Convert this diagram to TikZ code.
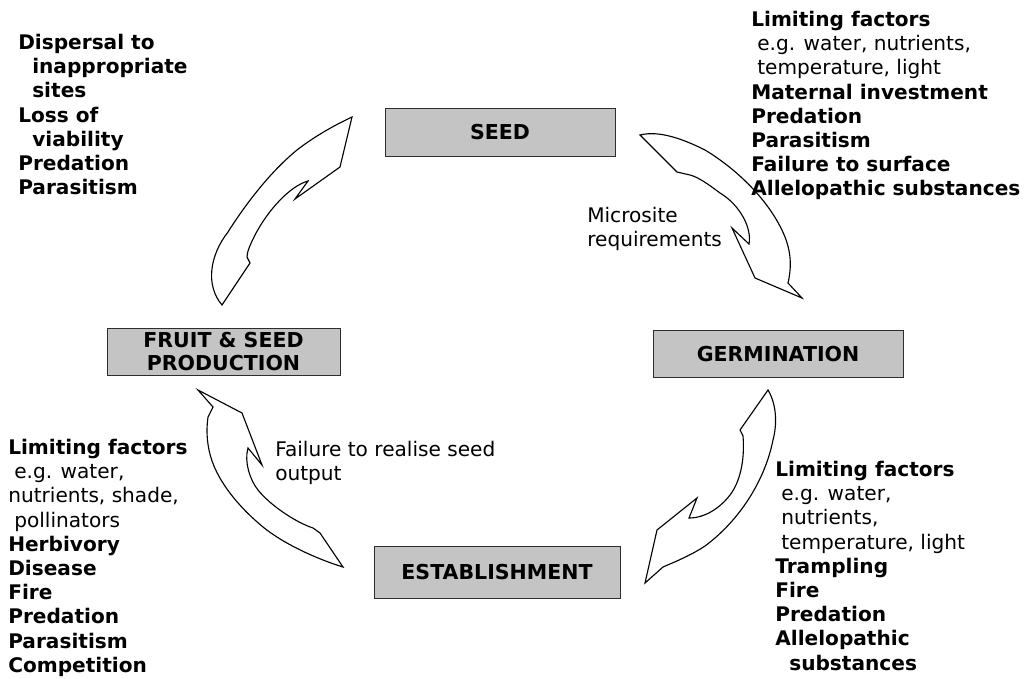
\documentclass[tikz,border=0pt]{standalone}
\usepackage{fontspec}
\setmainfont{DejaVu Sans}
\usepackage{tikz}
\definecolor{lcgrey}{RGB}{196,196,196}
\definecolor{lcline}{RGB}{45,45,45}
\newcommand{\lcsub}{\hspace*{0.15cm}}
\newcommand{\lcwrap}{\hspace*{0.35cm}}
\tikzset{
  lcbox/.style={draw=lcline, line width=.6pt, fill=lcgrey, align=center, inner sep=0pt, font=\fontsize{14.6}{16.4}\selectfont\bfseries},
  lcnote/.style={anchor=north west, align=left, inner sep=0pt, font=\fontsize{14.3}{17.2}\selectfont},
  lcarr/.style={draw=black, line width=.8pt, fill=white, line join=miter}
}

\begin{document}
\begin{tikzpicture}[x=0.025cm, y=-0.025cm]
  \useasboundingbox (0,0) rectangle (1030,678);
  % life cycle stages
  \node[lcbox, minimum width=5.75cm, minimum height=1.2cm] (seed) at (500,132) {SEED};
  \node[lcbox, minimum width=6.25cm, minimum height=1.175cm] (germ) at (778,354) {GERMINATION};
  \node[lcbox, minimum width=6.15cm, minimum height=1.3cm] (estab) at (497,572) {ESTABLISHMENT};
  \node[lcbox, minimum width=5.825cm, minimum height=1.175cm] (fruit) at (223.5,351.5) {FRUIT \& SEED\\PRODUCTION};
  % curved arrows between the stages
  \draw[lcarr] (222,305) .. controls (205,285) and (210,255) .. (228,232)
    .. controls (245,205) and (270,172) .. (297,150)
    .. controls (315,136) and (335,125) .. (352,117) -- (340,167) -- (295,199) -- (308,181)
    .. controls (290,186) and (268,210) .. (255,235)
    .. controls (250,245) and (247,252) .. (247,257) -- (250,263) -- cycle;
  \draw[lcarr] (640,135) .. controls (660,130) and (685,140) .. (705,150)
    .. controls (735,168) and (770,200) .. (785,237)
    .. controls (792,255) and (791,270) .. (788,283) -- (802,298) -- (755,278) -- (732,228) -- (749,244)
    .. controls (752,228) and (740,205) .. (720,193)
    .. controls (708,184) and (698,177) .. (690,175) -- (677,172) -- cycle;
  \draw[lcarr] (768,390) .. controls (777,405) and (777,425) .. (773,440)
    .. controls (765,480) and (740,520) .. (705,546)
    .. controls (690,556) and (672,563) .. (663,567) -- (645,583) -- (657,530) -- (697,498) -- (689,518)
    .. controls (705,518) and (720,508) .. (730,495)
    .. controls (740,482) and (745,460) .. (743,436) -- (740,430) -- cycle;
  \draw[lcarr] (343,567) .. controls (320,560) and (285,545) .. (263,527)
    .. controls (240,508) and (215,480) .. (209,450)
    .. controls (206,435) and (207,425) .. (208,417) -- (213,407) -- (198,390) -- (242,413) -- (262,465) -- (248,448)
    .. controls (244,462) and (250,480) .. (258,490)
    .. controls (270,505) and (295,522) .. (313,528) -- (320,533) -- cycle;
  % factors at each stage
  \node[lcnote] (seedloss) at (18,34) {\textbf{Dispersal to}\\\lcwrap\textbf{inappropriate}\\\lcwrap\textbf{sites}\\\textbf{Loss of}\\\lcwrap\textbf{viability}\\\textbf{Predation}\\\textbf{Parasitism}};
  \node[lcnote] (germloss) at (751,11) {\textbf{Limiting factors}\\\lcsub e.g. water, nutrients,\\\lcsub temperature, light\\\textbf{Maternal investment}\\\textbf{Predation}\\\textbf{Parasitism}\\\textbf{Failure to surface}\\\textbf{Allelopathic substances}};
  \node[lcnote] (micro) at (587,207) {Microsite\\requirements};
  \node[lcnote] (establoss) at (775,461) {\textbf{Limiting factors}\\\lcsub e.g. water,\\\lcsub nutrients,\\\lcsub temperature, light\\\textbf{Trampling}\\\textbf{Fire}\\\textbf{Predation}\\\textbf{Allelopathic}\\\lcwrap\textbf{substances}};
  \node[lcnote] (realise) at (275,441) {Failure to realise seed\\output};
  \node[lcnote] (fruitloss) at (8,439) {\textbf{Limiting factors}\\\lcsub e.g. water,\\nutrients, shade,\\\lcsub pollinators\\\textbf{Herbivory}\\\textbf{Disease}\\\textbf{Fire}\\\textbf{Predation}\\\textbf{Parasitism}\\\textbf{Competition}};
\end{tikzpicture}
\end{document}
